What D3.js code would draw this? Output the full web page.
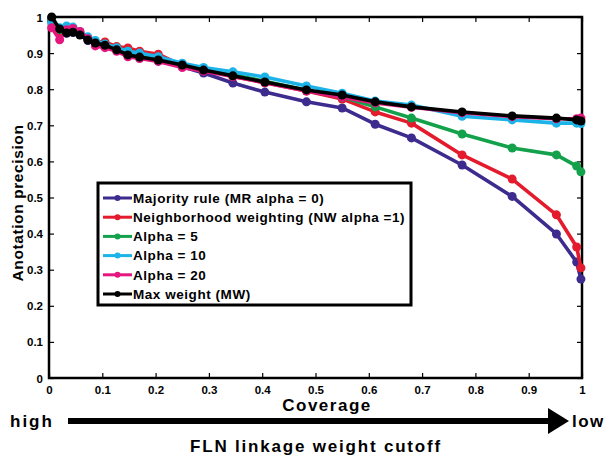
<!DOCTYPE html>
<html><head><meta charset="utf-8">
<script src="https://cdn.jsdelivr.net/npm/d3@7"></script>
<style>
body{margin:0;background:#fff;}
svg text{font-family:"Liberation Sans",Arial,sans-serif;font-weight:bold;}
</style></head>
<body><svg id="c" width="608" height="455"></svg>
<script>
const coverage = [0.005,0.02,0.033,0.045,0.058,0.073,0.087,0.105,0.127,0.148,0.17,0.205,0.25,0.29,0.345,0.405,0.483,0.55,0.612,0.68,0.775,0.869,0.952,0.99,0.998];
const majorityRule = [0.995,0.96,0.955,0.957,0.952,0.935,0.925,0.918,0.908,0.895,0.888,0.878,0.862,0.845,0.817,0.792,0.765,0.748,0.703,0.665,0.590,0.503,0.399,0.321,0.274];
const neighborhood = [0.99,0.96,0.962,0.963,0.955,0.94,0.93,0.931,0.918,0.914,0.905,0.897,0.865,0.855,0.835,0.818,0.795,0.773,0.737,0.706,0.618,0.551,0.452,0.363,0.305];
const alpha5 = [0.99,0.965,0.968,0.965,0.955,0.94,0.93,0.922,0.912,0.905,0.895,0.885,0.867,0.855,0.84,0.822,0.797,0.778,0.751,0.720,0.676,0.637,0.618,0.587,0.571];
const alpha10 = [0.985,0.97,0.975,0.972,0.96,0.945,0.935,0.925,0.915,0.905,0.9,0.89,0.872,0.86,0.848,0.834,0.809,0.789,0.767,0.756,0.725,0.715,0.706,0.706,0.705];
const alpha20 = [0.97,0.937,0.965,0.968,0.96,0.94,0.92,0.915,0.905,0.89,0.885,0.877,0.86,0.85,0.835,0.818,0.795,0.778,0.762,0.750,0.735,0.724,0.718,0.718,0.72];
const maxWeight = [1.0,0.967,0.956,0.958,0.950,0.936,0.928,0.922,0.909,0.895,0.889,0.881,0.867,0.853,0.837,0.820,0.798,0.784,0.765,0.751,0.737,0.726,0.720,0.715,0.712];
const seriesNames = ["Majority rule (MR  alpha = 0)","Neighborhood weighting (NW alpha =1)","Alpha = 5","Alpha = 10","Alpha = 20","Max weight (MW)"];
const seriesColors = ["#3d2b8e","#e31b2d","#13a14b","#1bb3e8","#e5177e","#000000"];
const seriesValues = [majorityRule, neighborhood, alpha5, alpha10, alpha20, maxWeight];
const tickValues = [0,0.1,0.2,0.3,0.4,0.5,0.6,0.7,0.8,0.9,1];
const tickLabels = ["0","0.1","0.2","0.3","0.4","0.5","0.6","0.7","0.8","0.9","1"];

const svg = d3.select("#c");
const L=49,R=582,T=17,B=378;
const x = d3.scaleLinear().domain([0,1]).range([L,R]);
const y = d3.scaleLinear().domain([0,1]).range([B,T]);
const fmt = d => tickLabels[tickValues.indexOf(d)] ?? d;

const gx = svg.append("g").attr("transform",`translate(0,${B})`)
  .call(d3.axisBottom(x).tickValues(tickValues).tickFormat(fmt).tickSizeInner(-5).tickSizeOuter(0).tickPadding(8));
const gxt = svg.append("g").attr("transform",`translate(0,${T})`)
  .call(d3.axisTop(x).tickValues(tickValues).tickFormat("").tickSizeInner(-5).tickSizeOuter(0));
const gy = svg.append("g").attr("transform",`translate(${L},0)`)
  .call(d3.axisLeft(y).tickValues(tickValues).tickFormat(fmt).tickSizeInner(-5).tickSizeOuter(0).tickPadding(6));
const gyr = svg.append("g").attr("transform",`translate(${R},0)`)
  .call(d3.axisRight(y).tickValues(tickValues).tickFormat("").tickSizeInner(-5).tickSizeOuter(0));
[gx,gxt,gy,gyr].forEach(g=>{
  g.select(".domain").remove();
  g.selectAll(".tick line").attr("stroke","#000").attr("stroke-width",1.2);
  g.selectAll("text").attr("fill","#000").attr("font-size",11.5).attr("font-weight","bold");
});
gy.selectAll(".tick text").attr("dy","0.35em");
svg.append("rect").attr("x",L).attr("y",T).attr("width",R-L).attr("height",B-T)
  .attr("fill","none").attr("stroke","#000").attr("stroke-width",2.5);

const line = d3.line().x((d,i)=>x(coverage[i])).y(d=>y(d));
seriesValues.forEach((vals,k)=>{
  svg.append("path").datum(vals).attr("d",line).attr("fill","none")
    .attr("stroke",seriesColors[k]).attr("stroke-width",3.6).attr("stroke-linejoin","round");
  svg.append("g").selectAll("circle").data(vals).join("circle")
    .attr("cx",(d,i)=>x(coverage[i])).attr("cy",d=>y(d)).attr("r",4.5)
    .attr("fill",seriesColors[k]);
});

const lg = svg.append("g");
lg.append("rect").attr("x",98).attr("y",183).attr("width",313).attr("height",122)
  .attr("fill","#fff").attr("stroke","#000").attr("stroke-width",3);
seriesNames.forEach((n,k)=>{
  const yy = 198 + k*19.2;
  lg.append("line").attr("x1",103).attr("x2",132).attr("y1",yy).attr("y2",yy)
    .attr("stroke",seriesColors[k]).attr("stroke-width",3);
  lg.append("circle").attr("cx",117.5).attr("cy",yy).attr("r",3).attr("fill",seriesColors[k]);
  lg.append("text").attr("x",133).attr("y",yy).attr("dy","0.36em").attr("font-size",13.5)
    .attr("letter-spacing","0.55px").text(n);
});

svg.append("text").attr("transform","translate(23,203) rotate(-90)").attr("text-anchor","middle")
  .attr("font-size",15.5).attr("letter-spacing","0.6px").text("Anotation precision");
svg.append("text").attr("x",327).attr("y",411).attr("text-anchor","middle")
  .attr("font-size",17).attr("letter-spacing","1.5px").text("Coverage");

svg.append("text").attr("x",10).attr("y",427).attr("font-size",17).attr("letter-spacing","2px").text("high");
svg.append("text").attr("x",572).attr("y",427).attr("font-size",17).attr("letter-spacing","1.5px").text("low");
svg.append("line").attr("x1",68).attr("x2",552).attr("y1",421).attr("y2",421).attr("stroke","#000").attr("stroke-width",6);
svg.append("path").attr("d","M548,408 L569,421 L548,434 Z").attr("fill","#000");
svg.append("text").attr("x",316).attr("y",452).attr("text-anchor","middle")
  .attr("font-size",17).attr("letter-spacing","1.8px").text("FLN linkage weight cutoff");
</script></body></html>
